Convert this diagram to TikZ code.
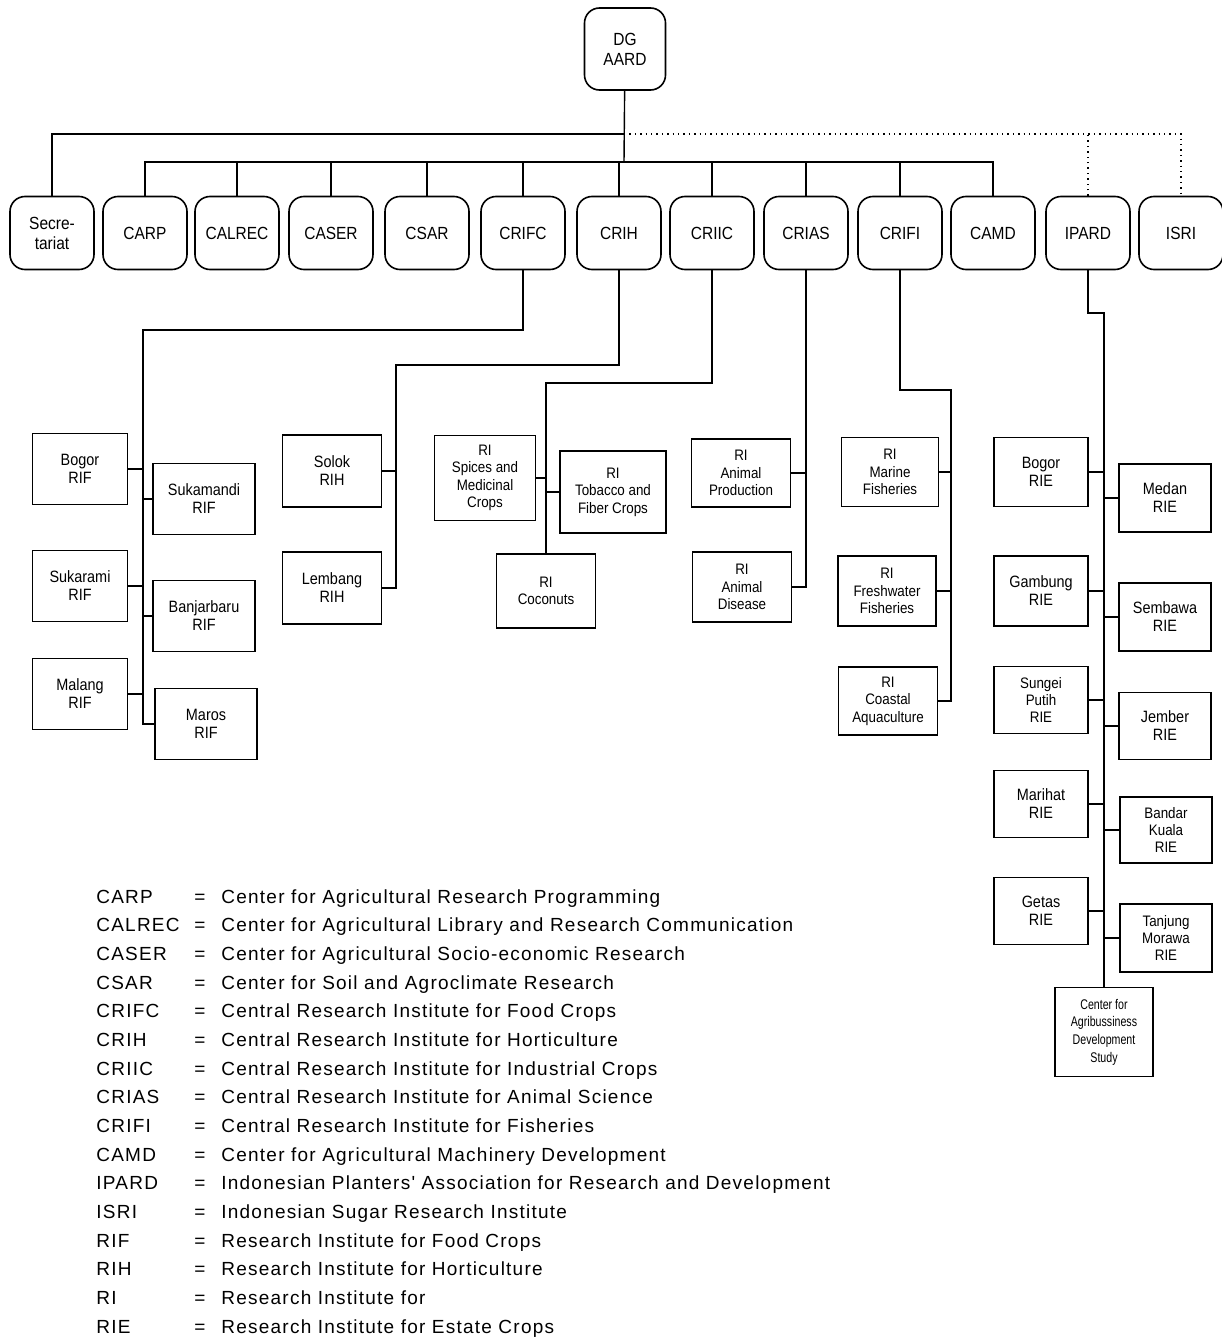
\documentclass[tikz,border=0pt]{standalone}
\usepackage{fontspec}
\setmainfont{Liberation Sans}
\newfontfamily\boxfont[FakeStretch=0.88]{Liberation Sans}
\newfontfamily\tinyfont[FakeStretch=0.76]{Liberation Sans}
\newfontfamily\legfont[LetterSpace=6.5]{Liberation Sans}
\tikzset{
  unit/.style={draw, rounded corners=7.5pt, line width=0.8pt, minimum width=42pt,
    minimum height=36.5pt, align=center, inner sep=1pt,
    font=\boxfont\fontsize{8.8}{10}\selectfont},
  inst/.style={draw, line width=0.8pt, minimum width=47.5pt, minimum height=35.5pt,
    align=center, inner sep=1pt, font=\boxfont\fontsize{8.2}{9}\selectfont},
  ri/.style={inst, font=\boxfont\fontsize{7.6}{8.7}\selectfont},
  link/.style={line width=0.7pt},
  legend/.style={anchor=base west, inner sep=0pt, font=\legfont\fontsize{9.5}{11}\selectfont},
}
\begin{document}
\begin{tikzpicture}[x=0.5pt, y=-0.5pt]
  \useasboundingbox (0,0) rectangle (1221,1338);

  \coordinate (topbus) at (624,134);
  \coordinate (bus) at (624,162);

  % head and first level
  \node[unit, minimum width=40.5pt, minimum height=41pt] (dg) at (625,49) {DG\\AARD};
  \foreach \n/\x/\t in {sec/52/{Secre-\\tariat}, carp/145/CARP, calrec/237/CALREC,
      caser/331/CASER, csar/427/CSAR, crifc/523/CRIFC, crih/619/CRIH, criic/712/CRIIC,
      crias/806/CRIAS, crifi/900/CRIFI, camd/993/CAMD, ipard/1088/IPARD, isri/1181/ISRI}
  {
    \node[unit] (\n) at (\x,233) {\t};
  }

  \draw[link] (dg) -- (bus);
  \draw[link] (sec.north) |- (topbus);
  \foreach \n in {carp,calrec,caser,csar,crifc,crih,criic,crias,crifi,camd}
    \draw[link] (\n.north) |- (bus);
  \draw[link, dotted] (topbus) -| (isri.north);
  \draw[link, dotted] (ipard.north) -- (ipard.north |- topbus);

  % food crops
  \node[inst] (bogorf) at (80,469) {Bogor\\RIF};
  \node[inst] (sukaramif) at (80,586) {Sukarami\\RIF};
  \node[inst] (malangf) at (80,694) {Malang\\RIF};
  \node[inst, minimum width=51pt] (sukamandif) at (204,499) {Sukamandi\\RIF};
  \node[inst, minimum width=51pt] (banjarbaruf) at (204,616) {Banjarbaru\\RIF};
  \node[inst, minimum width=51pt] (marosf) at (206,724) {Maros\\RIF};
  \coordinate (rifbend) at (143,330);
  \draw[link] (crifc.south) |- (rifbend) |- (marosf.west);
  \foreach \n in {bogorf,sukaramif,malangf}
    \draw[link] (\n.east) -- (\n.east -| rifbend);
  \foreach \n in {sukamandif,banjarbaruf}
    \draw[link] (\n.west) -- (\n.west -| rifbend);

  % horticulture
  \node[inst, minimum width=49.5pt, minimum height=36pt] (solok) at (332,471) {Solok\\RIH};
  \node[inst, minimum width=49.5pt, minimum height=36pt] (lembang) at (332,588) {Lembang\\RIH};
  \coordinate (rihbend) at (396,365);
  \draw[link] (crih.south) |- (rihbend) |- (lembang.east);
  \draw[link] (solok.east) -- (solok.east -| rihbend);

  % industrial crops
  \node[ri, minimum width=50.5pt, minimum height=42.5pt] (spices) at (485,478) {RI\\Spices and\\Medicinal\\Crops};
  \node[ri, minimum width=53pt, minimum height=41pt] (tobacco) at (613,492) {RI\\Tobacco and\\Fiber Crops};
  \node[ri, minimum width=49.5pt, minimum height=37pt] (coconut) at (546,591) {RI\\Coconuts};
  \coordinate (ricbend) at (546,383);
  \draw[link] (criic.south) |- (ricbend) -- (coconut.north);
  \draw[link] (spices.east) -- (spices.east -| ricbend);
  \draw[link] (tobacco.west) -- (tobacco.west -| ricbend);

  % animal science
  \node[ri, minimum width=49.5pt, minimum height=34pt] (aniprod) at (741,473) {RI\\Animal\\Production};
  \node[ri, minimum width=49.5pt, minimum height=35pt] (anidis) at (742,587) {RI\\Animal\\Disease};
  \draw[link] (crias.south) |- (anidis.east);
  \draw[link] (aniprod.east) -- (aniprod.east -| crias.south);

  % fisheries
  \node[ri, minimum width=48.5pt, minimum height=34.5pt] (marine) at (890,472) {RI\\Marine\\Fisheries};
  \node[ri, minimum width=49pt, minimum height=35pt] (fresh) at (887,591) {RI\\Freshwater\\Fisheries};
  \node[ri, minimum width=49.5pt, minimum height=34pt] (coastal) at (888,701) {RI\\Coastal\\Aquaculture};
  \coordinate (fishbend) at (951,390);
  \draw[link] (crifi.south) |- (fishbend) |- (coastal.east);
  \foreach \n in {marine,fresh}
    \draw[link] (\n.east) -- (\n.east -| fishbend);

  % estate crops
  \node[inst, minimum width=47pt, minimum height=34.5pt] (bogore) at (1041,472) {Bogor\\RIE};
  \node[inst, minimum width=47pt, minimum height=35pt] (gambung) at (1041,591) {Gambung\\RIE};
  \node[ri, minimum width=47pt, minimum height=33.5pt] (sungei) at (1041,700) {Sungei\\Putih\\RIE};
  \node[inst, minimum width=47pt, minimum height=33.5pt] (marihat) at (1041,804) {Marihat\\RIE};
  \node[inst, minimum width=47pt, minimum height=33.5pt] (getas) at (1041,911) {Getas\\RIE};
  \node[inst, minimum width=46pt, minimum height=34pt] (medan) at (1165,498) {Medan\\RIE};
  \node[inst, minimum width=46pt, minimum height=34pt] (sembawa) at (1165,617) {Sembawa\\RIE};
  \node[inst, minimum width=46pt, minimum height=33.5pt] (jember) at (1165,726) {Jember\\RIE};
  \node[ri, minimum width=46pt, minimum height=33pt] (bandar) at (1166,830) {Bandar\\Kuala\\RIE};
  \node[ri, minimum width=46pt, minimum height=34pt] (tanjung) at (1166,938) {Tanjung\\Morawa\\RIE};
  \node[inst, minimum width=49pt, minimum height=44.5pt,
    font=\tinyfont\fontsize{7}{8.8}\selectfont] (cads) at (1104,1032) {Center for\\Agribussiness\\Development\\Study};
  \coordinate (riebend) at (1104,313);
  \draw[link] (ipard.south) |- (riebend) -- (cads.north);
  \foreach \n in {bogore,gambung,sungei,marihat,getas}
    \draw[link] (\n.east) -- (\n.east -| riebend);
  \foreach \n in {medan,sembawa,jember,bandar,tanjung}
    \draw[link] (\n.west) -- (\n.west -| riebend);

  % abbreviations
  \foreach \ab/\txt [count=\i] in
  {
    CARP/Center for Agricultural Research Programming,
    CALREC/Center for Agricultural Library and Research Communication,
    CASER/Center for Agricultural Socio-economic Research,
    CSAR/Center for Soil and Agroclimate Research,
    CRIFC/Central Research Institute for Food Crops,
    CRIH/Central Research Institute for Horticulture,
    CRIIC/Central Research Institute for Industrial Crops,
    CRIAS/Central Research Institute for Animal Science,
    CRIFI/Central Research Institute for Fisheries,
    CAMD/Center for Agricultural Machinery Development,
    IPARD/Indonesian Planters' Association for Research and Development,
    ISRI/Indonesian Sugar Research Institute,
    RIF/Research Institute for Food Crops,
    RIH/Research Institute for Horticulture,
    RI/Research Institute for,
    RIE/Research Institute for Estate Crops
  }
  {
    \node[legend] (ab\i) at (96,{903+28.67*(\i-1)}) {\ab};
    \node[legend] (eq\i) at (194,{903+28.67*(\i-1)}) {=};
    \node[legend] (tx\i) at (221,{903+28.67*(\i-1)}) {\txt};
  }
\end{tikzpicture}
\end{document}
